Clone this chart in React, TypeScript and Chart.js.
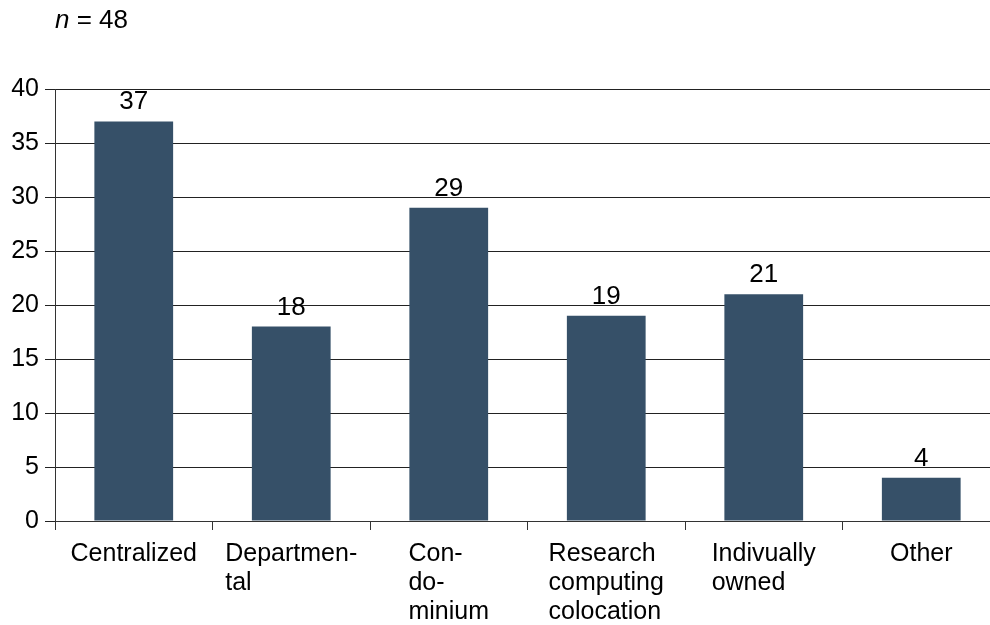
import React, { useEffect, useRef } from "react";
import { Chart, registerables } from "chart.js";

Chart.register(...registerables);

const categories: string[][] = [
  ["Centralized"],
  ["Departmen-", "tal"],
  ["Con-", "do-", "minium"],
  ["Research", "computing", "colocation"],
  ["Indivually", "owned"],
  ["Other"],
];
const values: number[] = [37, 18, 29, 19, 21, 4];
const yTicks: number[] = [0, 5, 10, 15, 20, 25, 30, 35, 40];
const sampleSize = 48;

const FONT = '"Liberation Sans", Arial, sans-serif';
const BAR_COLOR = "#365068";

const labelsPlugin = {
  id: "customLabels",
  afterDraw(chart: any) {
    const ctx = chart.ctx as CanvasRenderingContext2D;
    ctx.save();
    ctx.fillStyle = "#000";
    // title
    ctx.textBaseline = "alphabetic";
    ctx.textAlign = "left";
    ctx.font = `italic 26px ${FONT}`;
    const x0 = 55;
    ctx.fillText("n", x0, 28);
    const w = ctx.measureText("n").width;
    ctx.font = `26px ${FONT}`;
    ctx.fillText(" = " + sampleSize, x0 + w, 28);

    // value labels
    const meta = chart.getDatasetMeta(0);
    ctx.textAlign = "center";
    ctx.font = `26px ${FONT}`;
    meta.data.forEach((bar: any, i: number) => {
      ctx.fillText(String(values[i]), bar.x, bar.y - 12);
    });

    // x labels: block centered, lines left-aligned
    const xScale = chart.scales.x;
    ctx.font = `25px ${FONT}`;
    ctx.textAlign = "left";
    ctx.textBaseline = "middle";
    categories.forEach((lines, i) => {
      const cx = xScale.getPixelForValue(i);
      const maxW = Math.max(...lines.map((l) => ctx.measureText(l).width));
      const left = cx - maxW / 2;
      lines.forEach((l, j) => {
        ctx.fillText(l, left, 554 + j * 29);
      });
    });
    ctx.restore();
  },
};

export default function App() {
  const ref = useRef<HTMLCanvasElement | null>(null);
  useEffect(() => {
    if (!ref.current) return;
    const chart = new Chart(ref.current, {
      type: "bar",
      data: {
        labels: categories.map((c) => c.join(" ")),
        datasets: [
          {
            data: values,
            backgroundColor: BAR_COLOR,
            borderWidth: 0,
            categoryPercentage: 1,
            barPercentage: 0.5,
          },
        ],
      },
      options: {
        animation: false,
        responsive: false,
        maintainAspectRatio: false,
        layout: { padding: { top: 89, left: 0, right: 0, bottom: 0 } },
        plugins: { legend: { display: false }, tooltip: { enabled: false }, title: { display: false } },
        scales: {
          x: {
            type: "category",
            offset: true,
            grid: {
              offset: true,
              drawOnChartArea: false,
              drawTicks: true,
              tickLength: 9,
              color: "#333",
            },
            border: { display: true, color: "#333", width: 1 },
            ticks: { display: false },
            afterFit: (scale: any) => {
              scale.height = 104;
            },
          },
          y: {
            min: 0,
            max: 40,
            afterBuildTicks: (scale: any) => {
              scale.ticks = yTicks.map((v) => ({ value: v }));
            },
            grid: { color: "#222", tickLength: 10, drawTicks: true },
            border: { display: true, color: "#333", width: 1 },
            ticks: {
              color: "#000",
              padding: 6,
              font: { family: FONT, size: 25 },
            },
            afterFit: (scale: any) => {
              scale.width = 55;
            },
          },
        },
      },
      plugins: [labelsPlugin],
    } as any);
    return () => chart.destroy();
  }, []);
  return (
    <div style={{ position: "fixed", left: 0, top: 0, width: 990, height: 625, overflow: "hidden", background: "#fff" }}>
      <canvas ref={ref} width={1000} height={625} style={{ width: 1000, height: 625, display: "block" }} />
    </div>
  );
}
